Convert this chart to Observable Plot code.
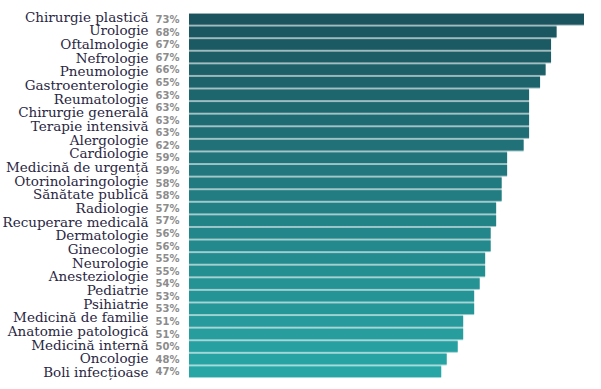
<!DOCTYPE html>
<html><head><meta charset="utf-8">
<script src="https://cdn.jsdelivr.net/npm/d3@7"></script>
<script src="https://cdn.jsdelivr.net/npm/@observablehq/plot@0.6"></script>
<style>
body{margin:0;background:#fff}
#wrap{position:relative;width:601px;height:389px}
#wrap svg{position:absolute;left:0;top:0}
</style>
</head><body><div id="wrap"></div>
<script>
const specialties = ["Chirurgie plastică","Urologie","Oftalmologie","Nefrologie","Pneumologie","Gastroenterologie","Reumatologie","Chirurgie generală","Terapie intensivă","Alergologie","Cardiologie","Medicină de urgență","Otorinolaringologie","Sănătate publică","Radiologie","Recuperare medicală","Dermatologie","Ginecologie","Neurologie","Anesteziologie","Pediatrie","Psihiatrie","Medicină de familie","Anatomie patologică","Medicină internă","Oncologie","Boli infecțioase"];
const values = [73,68,67,67,66,65,63,63,63,63,62,59,59,58,58,57,57,56,56,55,55,54,53,53,51,51,50,48,47];
const valueLabels = values.map(v => v + "%");

const rows = values.map((v, i) => ({i, v, label: valueLabels[i]}));

const bars = Plot.plot({
  width: 601, height: 389,
  marginLeft: 183, marginRight: 17, marginTop: 13, marginBottom: 11,
  style: {background: "white"},
  x: {domain: [0, 73], axis: null},
  y: {domain: d3.range(values.length), axis: null, padding: 0, round: false},
  color: {type: "linear", domain: [0, values.length - 1], range: ["#1b545e", "#28a6a6"]},
  marks: [
    Plot.barX(rows, {x: "v", y: "i", fill: "i", fillOpacity: 0.45, insetLeft: 6}),
    Plot.barX(rows, {x: "v", y: "i", fill: "i", insetLeft: 6, insetTop: 1, insetBottom: 1}),
    Plot.text(rows, {x: 0, y: "i", text: "label", dx: -28, textAnchor: "start",
      fontSize: 10, fontWeight: "bold", fontFamily: "DejaVu Sans", fill: "#8c8c8c"})
  ]
});

const labels = Plot.plot({
  width: 601, height: 389,
  marginLeft: 0, marginRight: 453, marginTop: 17, marginBottom: 17,
  style: {background: "transparent", overflow: "visible"},
  x: {axis: null},
  y: {type: "point", domain: specialties, axis: null, padding: 0, round: false},
  marks: [
    Plot.text(specialties, {y: d => d, text: d => d, frameAnchor: "right", textAnchor: "end",
      fontSize: 13.5, fontFamily: "DejaVu Serif", fill: "#2a2743", letterSpacing: "-0.35px"})
  ]
});

const wrap = document.getElementById("wrap");
wrap.appendChild(bars);
wrap.appendChild(labels);
</script>
</body></html>
